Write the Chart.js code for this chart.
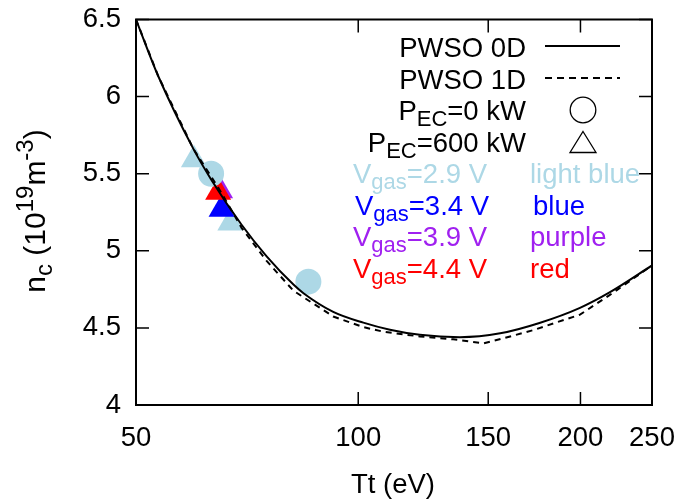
<!DOCTYPE html>
<html>
<head>
<meta charset="utf-8">
<script src="https://cdn.jsdelivr.net/npm/chart.js@4"></script>
<style>
  html, body { margin: 0; padding: 0; background: #fff; }
</style>
</head>
<body>
<canvas id="myChart" width="680" height="504"></canvas>
<script>
// tick values
const xTicks = [50, 100, 150, 200, 250];
const yTicks = [4, 4.5, 5, 5.5, 6, 6.5];

// PWSO 0D (solid)
const pwso0dT = [50, 53.6, 59.8, 63.2, 69.5, 75.1, 81.7, 84.3, 92.5, 101.6, 110.4, 121.2, 137.3, 155.7, 176, 199.7, 219, 250];
const pwso0dN = [6.5, 6.132, 5.661, 5.463, 5.169, 4.966, 4.781, 4.725, 4.604, 4.534, 4.488, 4.455, 4.44, 4.465, 4.532, 4.63, 4.73, 4.905];

// PWSO 1D (dashed)
const pwso1dT = [50, 53.6, 59.8, 65, 69.5, 75.1, 81.7, 92.5, 101.6, 108.2, 115, 121.2, 134.5, 148, 157.4, 172.7, 199.7, 219, 224, 250];
const pwso1dN = [6.5, 6.132, 5.661, 5.39, 5.149, 4.936, 4.741, 4.574, 4.505, 4.475, 4.458, 4.445, 4.426, 4.40, 4.433, 4.486, 4.586, 4.713, 4.745, 4.905];

// P_EC = 0 kW (circles), Vgas = 2.9 V
const circleT = [63.2, 85.6];
const circleN = [5.5, 4.8];

// P_EC = 600 kW (triangles)
const triT = [67.1, 65.3, 65.0, 64.6, 59.9];
const triN = [5.18, 5.27, 5.39, 5.38, 5.59];
const triColors = ['#add8e6', '#0000ff', '#a020f0', '#ff0000', '#add8e6'];

const FONT = '"Liberation Sans", Arial, Helvetica, sans-serif';
const FS = 27.5;

function toXY(xs, ys) {
    return xs.map((x, i) => ({ x: x, y: ys[i] }));
}

// text with sub/superscripts: parts = [{t, sub}, {t, sup}, ...]
function partFont(p, fs) {
    return ((p.sub || p.sup) ? Math.round(fs * 0.8) : fs) + 'px ' + FONT;
}
function drawRich(ctx, parts, x, y, align, color, fs) {
    fs = fs || FS;
    let w = 0;
    for (const p of parts) {
        ctx.font = partFont(p, fs);
        w += ctx.measureText(p.t).width;
    }
    let cx = align === 'right' ? x - w : (align === 'center' ? x - w / 2 : x);
    ctx.fillStyle = color;
    ctx.textAlign = 'left';
    ctx.textBaseline = 'alphabetic';
    for (const p of parts) {
        ctx.font = partFont(p, fs);
        let dy = p.sub ? fs * 0.22 : (p.sup ? -fs * 0.4 : 0);
        ctx.fillText(p.t, cx, y + dy);
        cx += ctx.measureText(p.t).width;
    }
}

const framePlugin = {
    id: 'frame',
    afterDraw(chart) {
        const ctx = chart.ctx;
        const a = chart.chartArea;
        const xs = chart.scales.x, ys = chart.scales.y;
        ctx.save();
        // border
        ctx.strokeStyle = '#000';
        ctx.lineWidth = 2;
        ctx.strokeRect(a.left, a.top, a.right - a.left, a.bottom - a.top);
        // inward ticks
        ctx.lineWidth = 1.5;
        ctx.beginPath();
        for (const v of xTicks) {
            const px = xs.getPixelForValue(v);
            ctx.moveTo(px, a.bottom); ctx.lineTo(px, a.bottom - 13);
            ctx.moveTo(px, a.top); ctx.lineTo(px, a.top + 13);
        }
        for (const v of yTicks) {
            const py = ys.getPixelForValue(v);
            ctx.moveTo(a.left, py); ctx.lineTo(a.left + 13, py);
            ctx.moveTo(a.right, py); ctx.lineTo(a.right - 13, py);
        }
        ctx.stroke();

        // axis titles
        ctx.fillStyle = '#000';
        ctx.font = FS + 'px ' + FONT;
        ctx.textAlign = 'center';
        ctx.textBaseline = 'middle';
        ctx.fillText('Tt (eV)', 393, 485);

        ctx.save();
        ctx.translate(45, 211);
        ctx.rotate(-Math.PI / 2);
        drawRich(ctx, [{ t: 'n' }, { t: 'c', sub: true }, { t: ' (10' }, { t: '19', sup: true },
                       { t: 'm' }, { t: '-3', sup: true }, { t: ')' }], 0, 0, 'center', '#000', 30);
        ctx.restore();

        // legend
        const rx = 526;
        drawRich(ctx, [{ t: 'PWSO 0D' }], rx, 57, 'right', '#000');
        drawRich(ctx, [{ t: 'PWSO 1D' }], rx, 88.5, 'right', '#000');
        drawRich(ctx, [{ t: 'P' }, { t: 'EC', sub: true }, { t: '=0 kW' }], rx, 120, 'right', '#000');
        drawRich(ctx, [{ t: 'P' }, { t: 'EC', sub: true }, { t: '=600 kW' }], rx, 151.5, 'right', '#000');

        ctx.strokeStyle = '#000';
        ctx.lineWidth = 2;
        ctx.beginPath(); ctx.moveTo(545, 46); ctx.lineTo(620, 46); ctx.stroke();
        ctx.setLineDash([7, 5]);
        ctx.beginPath(); ctx.moveTo(545, 78); ctx.lineTo(620, 78); ctx.stroke();
        ctx.setLineDash([]);
        ctx.lineWidth = 1.3;
        ctx.beginPath(); ctx.arc(583, 110, 12.8, 0, Math.PI * 2); ctx.stroke();
        ctx.beginPath();
        ctx.moveTo(583, 131.5); ctx.lineTo(596, 152.5); ctx.lineTo(570, 152.5); ctx.closePath();
        ctx.stroke();

        const rows = [
            ['2.9', 'light blue', '#add8e6', 183, 353, 530],
            ['3.4', 'blue', '#0000ff', 214.5, 355, 533],
            ['3.9', 'purple', '#a020f0', 246, 353, 530],
            ['4.4', 'red', '#ff0000', 277.5, 353, 530]
        ];
        for (const r of rows) {
            drawRich(ctx, [{ t: 'V' }, { t: 'gas', sub: true }, { t: '=' + r[0] + ' V' }], r[4], r[3], 'left', r[2]);
            drawRich(ctx, [{ t: r[1] }], r[5], r[3], 'left', r[2]);
        }
        ctx.restore();
    }
};

Chart.defaults.font.family = FONT;
Chart.defaults.font.size = FS;
Chart.defaults.color = '#000';

const ctx = document.getElementById('myChart').getContext('2d');
const myChart = new Chart(ctx, {
    type: 'scatter',
    data: {
        datasets: [
            {
                label: 'PWSO 0D',
                data: toXY(pwso0dT, pwso0dN),
                showLine: true,
                borderColor: '#000',
                borderWidth: 2,
                pointRadius: 0,
                cubicInterpolationMode: 'monotone'
            },
            {
                label: 'PWSO 1D',
                data: toXY(pwso1dT, pwso1dN),
                showLine: true,
                borderColor: '#000',
                borderWidth: 2,
                borderDash: [6, 5],
                pointRadius: 0,
                tension: 0
            },
            {
                label: 'PEC=0 kW',
                data: toXY(circleT, circleN),
                pointStyle: 'circle',
                pointRadius: 13,
                pointBackgroundColor: '#add8e6',
                pointBorderWidth: 0,
                borderColor: '#add8e6'
            },
            {
                label: 'PEC=600 kW',
                data: toXY(triT, triN),
                pointStyle: 'triangle',
                pointRadius: 15,
                pointBackgroundColor: triColors,
                pointBorderWidth: 0,
                borderColor: triColors
            }
        ]
    },
    options: {
        responsive: false,
        animation: false,
        layout: { padding: { top: 19.5, right: 28, left: 0, bottom: 0 } },
        plugins: {
            legend: { display: false },
            tooltip: { enabled: false }
        },
        scales: {
            x: {
                type: 'logarithmic',
                min: 50,
                max: 250,
                afterBuildTicks: function (scale) {
                    scale.ticks = xTicks.map(v => ({ value: v }));
                },
                afterFit: function (scale) { scale.height = 99; },
                grid: { display: false, drawTicks: true, tickLength: 17 },
                border: { display: false },
                ticks: {
                    autoSkip: false,
                    maxRotation: 0,
                    padding: 0,
                    callback: v => String(v)
                }
            },
            y: {
                type: 'linear',
                min: 4,
                max: 6.5,
                afterBuildTicks: function (scale) {
                    scale.ticks = yTicks.map(v => ({ value: v }));
                },
                afterFit: function (scale) { scale.width = 136; },
                grid: { display: false, drawTicks: true, tickLength: 15 },
                border: { display: false },
                ticks: {
                    padding: 0,
                    callback: v => String(v)
                }
            }
        }
    },
    plugins: [framePlugin]
});
</script>
</body>
</html>
